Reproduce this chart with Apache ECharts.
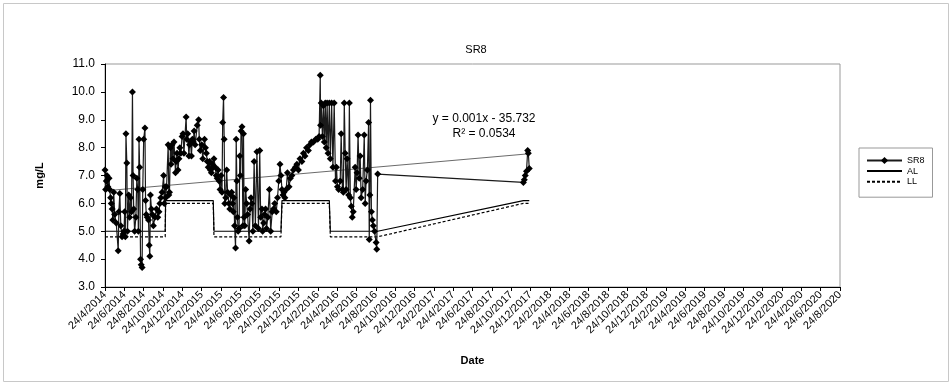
<!DOCTYPE html>
<html>
<head>
<meta charset="utf-8">
<title>SR8</title>
<script src="https://cdn.jsdelivr.net/npm/echarts@6/dist/echarts.min.js"></script>
<style>
  html, body { margin: 0; padding: 0; background: #fff; }
  #chart { width: 952px; height: 385px; }
</style>
</head>
<body>
<div id="chart"></div>
<script>
// SR8 samples
const sr8Dates = [
  '2014-04-24','2014-04-26','2014-04-28','2014-04-30','2014-05-02','2014-05-06','2014-05-08','2014-05-11',
  '2014-05-13','2014-05-16','2014-05-18','2014-05-21','2014-05-24','2014-05-29','2014-06-05','2014-06-07',
  '2014-06-10','2014-06-13','2014-06-17','2014-06-20','2014-06-23','2014-06-25','2014-06-27','2014-06-29',
  '2014-07-01','2014-07-03','2014-07-07','2014-07-10','2014-07-13','2014-07-16','2014-07-19','2014-07-21',
  '2014-07-23','2014-07-26','2014-07-30','2014-08-02','2014-08-05','2014-08-07','2014-08-09','2014-08-11',
  '2014-08-14','2014-08-16','2014-08-19','2014-08-21','2014-08-24','2014-08-28','2014-08-30','2014-09-02',
  '2014-09-05','2014-09-09','2014-09-11','2014-09-13','2014-09-15','2014-09-18','2014-09-21','2014-09-24',
  '2014-09-29','2014-10-03','2014-10-07','2014-10-11','2014-10-14','2014-10-17','2014-10-21','2014-10-26',
  '2014-10-28','2014-10-31','2014-11-02','2014-11-05','2014-11-10','2014-11-12','2014-11-14','2014-11-17',
  '2014-11-19','2014-11-22','2014-11-25','2014-11-28','2014-12-02','2014-12-04','2014-12-07','2014-12-10',
  '2014-12-13','2014-12-16','2014-12-19','2014-12-23','2014-12-26','2014-12-29',
  '2015-01-05','2015-01-07','2015-01-10','2015-01-14','2015-01-16','2015-01-19','2015-01-22','2015-01-25',
  '2015-01-28','2015-02-02','2015-02-05','2015-02-11','2015-02-15','2015-02-17','2015-02-20','2015-02-24',
  '2015-02-27','2015-03-02','2015-03-05','2015-03-08','2015-03-11','2015-03-14','2015-03-18','2015-03-21',
  '2015-03-24','2015-03-27','2015-03-30','2015-04-02','2015-04-06','2015-04-09','2015-04-12','2015-04-15',
  '2015-04-18','2015-04-21','2015-04-24','2015-04-27','2015-04-29','2015-05-01','2015-05-03','2015-05-05',
  '2015-05-08','2015-05-11','2015-05-14','2015-05-18','2015-05-21','2015-05-24','2015-05-27','2015-05-30',
  '2015-06-02','2015-06-04','2015-06-06','2015-06-09','2015-06-11','2015-06-13','2015-06-15','2015-06-17',
  '2015-06-20','2015-06-22','2015-06-24','2015-06-26','2015-06-29','2015-07-01','2015-07-03','2015-07-05',
  '2015-07-07','2015-07-10','2015-07-13','2015-07-16','2015-07-21','2015-07-24','2015-07-27','2015-07-30',
  '2015-08-02','2015-08-06','2015-08-10','2015-08-15','2015-08-20','2015-08-24','2015-08-27','2015-08-31',
  '2015-09-03','2015-09-06','2015-09-09','2015-09-12','2015-09-15','2015-09-19','2015-09-24','2015-09-28',
  '2015-10-02','2015-10-06','2015-10-10','2015-10-15','2015-10-19','2015-10-23','2015-10-27','2015-10-30',
  '2015-11-03','2015-11-06','2015-11-09','2015-11-12','2015-11-16','2015-11-20','2015-11-25','2015-11-29',
  '2015-12-03','2015-12-08','2015-12-14','2015-12-19','2015-12-24','2015-12-29',
  '2016-01-04','2016-01-09','2016-01-14','2016-01-19','2016-01-25','2016-01-30','2016-02-05','2016-02-11',
  '2016-02-18','2016-02-24','2016-02-28','2016-03-01','2016-03-02','2016-03-04','2016-03-08','2016-03-11',
  '2016-03-14','2016-03-17','2016-03-20','2016-03-23','2016-03-26','2016-03-30','2016-04-03','2016-04-07',
  '2016-04-11','2016-04-15','2016-04-19','2016-04-22','2016-04-25','2016-04-29','2016-05-03','2016-05-06',
  '2016-05-10','2016-05-13','2016-05-16','2016-05-19','2016-05-22','2016-05-25','2016-05-30','2016-06-02',
  '2016-06-05','2016-06-08','2016-06-11','2016-06-14','2016-06-20','2016-06-23','2016-06-26','2016-06-29',
  '2016-07-02','2016-07-05','2016-07-08','2016-07-13','2016-07-18','2016-07-21','2016-07-24','2016-07-28',
  '2016-08-01','2016-08-03','2016-08-05','2016-08-07','2016-08-10','2016-08-13','2016-08-16','2016-08-20',
  '2016-08-25','2016-08-27','2016-08-30',
  '2017-12-01','2017-12-04','2017-12-07','2017-12-11','2017-12-15','2017-12-17','2017-12-20'
];
const sr8Values = [
  7.2, 6.5, 6.8, 7.0, 6.6, 6.9, 6.5, 6.2,
  6.0, 5.8, 5.4, 6.4, 5.6, 5.3, 4.3, 5.7,
  6.35, 5.2, 4.8, 4.9, 5.0, 5.7, 4.8, 8.5,
  7.45, 5.0, 6.3, 5.5, 6.2, 5.7, 10.0, 7.0,
  5.8, 5.0, 5.5, 6.9, 6.5, 5.0, 8.3, 7.3,
  4.0, 3.8, 3.7, 6.5, 8.3, 8.7, 6.1, 5.6,
  5.5, 5.4, 4.5, 4.1, 6.3, 5.8, 5.6, 5.2,
  5.5, 5.8, 5.5, 5.7, 6.0, 6.2, 6.4, 7.0,
  6.0, 6.6, 6.2, 6.6, 8.1, 6.3, 6.4, 8.0,
  7.4, 8.1, 7.6, 8.2, 7.1, 7.5, 7.8, 7.2,
  7.6, 8.0, 7.8, 8.4, 8.5, 7.8,
  9.1, 8.3, 8.5, 7.7, 8.1, 8.2, 7.7, 8.3,
  8.2, 8.6, 8.1, 8.8, 9.0, 8.3, 7.9, 8.1,
  7.6, 8.3, 8.0, 7.8, 7.5, 7.3, 7.5, 7.2,
  7.1, 7.4, 7.3, 7.6, 7.3, 7.0, 6.9, 7.2,
  6.8, 6.5, 7.0, 6.4, 8.9, 9.8, 8.3, 6.0,
  6.2, 7.2, 6.4, 6.0, 5.8, 6.3, 6.4, 6.0,
  5.7, 6.2, 5.2, 4.4, 8.3, 6.8, 5.5, 5.0,
  5.1, 7.7, 7.0, 8.6, 8.75, 5.2, 8.5, 5.5,
  5.2, 6.5, 6.0, 5.6, 4.65, 5.8, 6.2, 6.0,
  5.0, 7.5, 5.2, 7.85, 5.1, 7.9, 5.5, 5.8,
  5.0, 5.3, 5.6, 5.8, 5.1, 5.5, 6.5, 5.0,
  5.7, 5.8, 6.0, 5.7, 6.2, 6.8, 7.4, 7.0,
  6.5, 6.3, 6.4, 6.2, 6.5, 7.1, 6.6, 6.9,
  7.0, 7.2, 7.3, 7.4, 7.2, 7.6,
  7.5, 7.8, 7.7, 8.0, 7.9, 8.1, 8.2, 8.2,
  8.3, 8.3, 8.4, 10.6, 8.8, 9.6, 8.4, 9.5,
  8.2, 9.6, 8.0, 9.6, 7.8, 9.6, 7.6, 9.6,
  7.3, 9.6, 6.8, 7.3, 6.6, 6.5, 6.8, 8.5,
  6.5, 6.4, 9.6, 7.8, 6.5, 7.6, 6.3, 9.6,
  6.2, 5.9, 5.5, 5.7, 7.3, 6.5, 7.1, 8.45,
  6.9, 7.7, 6.2, 6.5, 8.45, 6.0, 6.8, 7.2,
  8.9, 4.7, 6.3, 9.7, 5.7, 5.4, 5.2, 5.0,
  4.6, 4.35, 7.05,
  6.75, 6.85, 7.0, 7.15, 7.9, 7.8, 7.25
];

// AL / LL limits at the sample dates where they change
const limitDates = [
  '2014-04-24','2014-10-31','2014-11-02','2015-03-30','2015-04-02','2015-10-30',
  '2015-11-03','2016-03-30','2016-04-03','2016-08-30','2017-12-01','2017-12-20'
];
const alValues = [5.0, 5.0, 6.1, 6.1, 5.0, 5.0, 6.1, 6.1, 5.0, 5.0, 6.1, 6.1];
const llValues = [4.8, 4.8, 6.0, 6.0, 4.8, 4.8, 6.0, 6.0, 4.8, 4.8, 6.0, 6.0];

// linear trendline ends (Excel fit)
const trendDates = ['2014-04-24', '2017-12-20'];
const trendValues = [6.45, 7.78];

// months counted from 24/4/2014, so every axis tick lands on the 24th
function monthIndex(s) {
    const [y, m, d] = s.split('-').map(Number);
    const days = new Date(Date.UTC(y, m, 0)).getUTCDate();
    return (y - 2014) * 12 + (m - 4) + (d - 24) / days;
}

function tickLabel(v) {
    const k = Math.round(v);
    const mon = (3 + k) % 12 + 1;
    const yr = 2014 + Math.floor((3 + k) / 12);
    return '24/' + mon + '/' + yr;
}

function pairs(dates, values) {
    return dates.map((d, i) => [monthIndex(d), values[i]]);
}

const FONT = 'Liberation Sans';
// hide the default circle ECharts puts on line legend icons
const noMarker = { color: 'rgba(0,0,0,0)', borderWidth: 0 };

const chart = echarts.init(document.getElementById('chart'));
const options = {
    animation: false,
    textStyle: { fontFamily: FONT, color: '#000' },
    title: {
        text: 'SR8',
        left: 'center',
        top: 39,
        textStyle: { fontSize: 11, fontWeight: 'normal', color: '#000', fontFamily: FONT }
    },
    legend: {
        data: [
            { name: 'SR8' },
            { name: 'AL', itemStyle: noMarker },
            { name: 'LL', itemStyle: noMarker }
        ],
        orient: 'vertical',
        left: 859,
        top: 148,
        width: 79,
        itemWidth: 35,
        itemHeight: 9,
        itemGap: 1.6,
        padding: [8, 8, 11, 7],
        borderColor: '#999',
        borderWidth: 1,
        textStyle: { fontSize: 9, color: '#000', fontFamily: FONT }
    },
    grid: {
        left: 105,
        right: 112,
        top: 64,
        bottom: 98,
        show: true,
        borderColor: '#999',
        borderWidth: 1
    },
    xAxis: {
        type: 'value',
        min: 0,
        max: 76,
        interval: 2,
        name: 'Date',
        nameLocation: 'middle',
        nameGap: 68,
        nameTextStyle: { fontSize: 11, fontWeight: 'bold', color: '#000', fontFamily: FONT },
        axisLine: { lineStyle: { color: '#000', width: 1 } },
        axisTick: { show: true, length: 4, lineStyle: { color: '#000' } },
        splitLine: { show: false },
        axisLabel: {
            rotate: 45,
            fontSize: 11,
            color: '#000',
            margin: 6,
            fontFamily: FONT,
            formatter: tickLabel
        }
    },
    yAxis: {
        type: 'value',
        min: 3,
        max: 11,
        interval: 1,
        name: 'mg/L',
        nameLocation: 'middle',
        nameGap: 60,
        nameTextStyle: { fontSize: 11, fontWeight: 'bold', color: '#000', fontFamily: FONT },
        axisLine: { show: true, lineStyle: { color: '#000', width: 1 } },
        axisTick: { show: true, length: 4, lineStyle: { color: '#000' } },
        splitLine: { show: false },
        axisLabel: {
            fontSize: 12,
            color: '#000',
            margin: 10,
            fontFamily: FONT,
            formatter: v => v.toFixed(1)
        }
    },
    graphic: [
        {
            type: 'rect',
            shape: { x: 3.5, y: 3.5, width: 945, height: 378 },
            style: { fill: 'none', stroke: '#c8c8c8', lineWidth: 1 },
            silent: true
        },
        {
            type: 'text',
            x: 484,
            y: 111,
            style: {
                text: 'y = 0.001x - 35.732\nR² = 0.0534',
                fontSize: 12,
                fontFamily: FONT,
                lineHeight: 15,
                textAlign: 'center',
                fill: '#000'
            },
            silent: true
        }
    ],
    series: [
        {
            name: 'AL',
            type: 'line',
            data: pairs(limitDates, alValues),
            symbol: 'none',
            lineStyle: { color: '#000', width: 1.2 },
            itemStyle: { color: '#000' },
            z: 2
        },
        {
            name: 'LL',
            type: 'line',
            data: pairs(limitDates, llValues),
            symbol: 'none',
            lineStyle: { color: '#000', width: 1.2, type: [3, 2] },
            itemStyle: { color: '#000' },
            z: 2
        },
        {
            name: 'trend',
            type: 'line',
            data: pairs(trendDates, trendValues),
            symbol: 'none',
            lineStyle: { color: '#444', width: 0.8 },
            silent: true,
            z: 3
        },
        {
            name: 'SR8',
            type: 'line',
            data: pairs(sr8Dates, sr8Values),
            symbol: 'diamond',
            symbolSize: 7,
            showAllSymbol: true,
            lineStyle: { color: '#1a1a1a', width: 1.2 },
            itemStyle: { color: '#000' },
            z: 4
        }
    ]
};

chart.setOption(options);
</script>
</body>
</html>
